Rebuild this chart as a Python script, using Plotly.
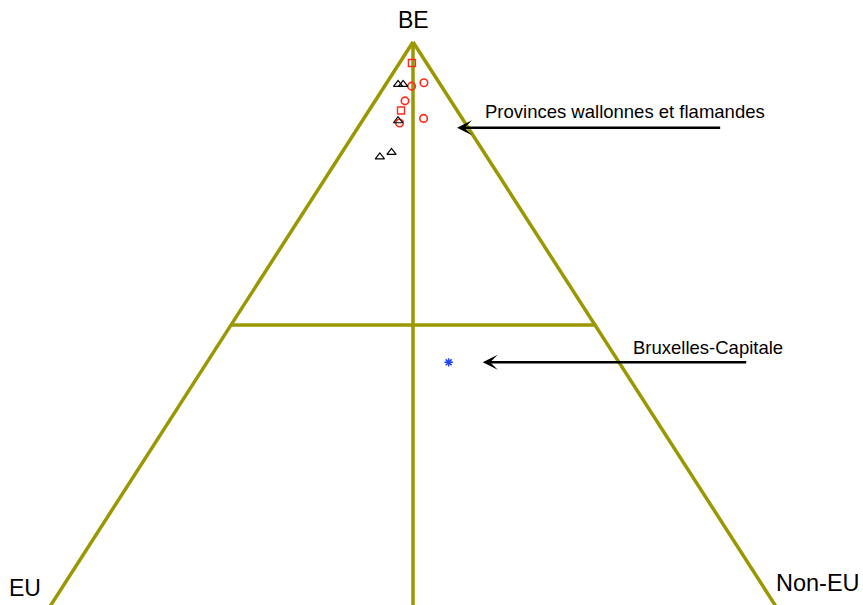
import plotly.graph_objects as go

# shares (%) of population by nationality: Belgian, other EU, non-EU
sq_be = [96.3, 87.9]
sq_eu = [2.0, 7.7]
sq_neu = [1.7, 4.4]

ci_be = [92.2, 92.8, 89.6, 85.7, 86.5]
ci_eu = [4.1, 2.1, 6.3, 9.0, 5.3]
ci_neu = [3.7, 5.1, 4.1, 5.3, 8.2]

tr_be = [92.5, 92.5, 86.0, 79.7, 80.5]
tr_eu = [5.8, 5.1, 9.0, 14.7, 12.7]
tr_neu = [1.7, 2.4, 4.9, 5.6, 6.8]

bx_be = [43.4]
bx_eu = [23.4]
bx_neu = [33.2]

OLIVE = "#9a9700"


def project(be, eu, neu):
    # BE at top (y=1), EU bottom left (x=-1), Non-EU bottom right (x=1)
    xs, ys = [], []
    for b, e, n in zip(be, eu, neu):
        t = b + e + n
        xs.append((n - e) / t)
        ys.append(b / t)
    return xs, ys


fig = go.Figure()

# triangle frame
for x0, y0, x1, y1 in [(0, 1, -1, 0), (0, 1, 1, 0), (0, 1, 0, 0), (-0.5, 0.5, 0.5, 0.5)]:
    fig.add_shape(type="line", x0=x0, y0=y0, x1=x1, y1=y1,
                  line=dict(color=OLIVE, width=3.5), layer="below")

x, y = project(sq_be, sq_eu, sq_neu)
fig.add_trace(go.Scatter(x=x, y=y, mode="markers",
                         marker=dict(symbol="square-open", size=7, color="#ff2a1a",
                                     line=dict(width=1.4))))
x, y = project(ci_be, ci_eu, ci_neu)
fig.add_trace(go.Scatter(x=x, y=y, mode="markers",
                         marker=dict(symbol="circle-open", size=7.5, color="#ff2a1a",
                                     line=dict(width=1.6))))
x, y = project(tr_be, tr_eu, tr_neu)
fig.add_trace(go.Scatter(x=x, y=y, mode="markers",
                         marker=dict(symbol="triangle-up-open", size=8, color="black",
                                     line=dict(width=1.2))))
bx, by = project(bx_be, bx_eu, bx_neu)
fig.add_trace(go.Scatter(x=bx, y=by, mode="markers",
                         marker=dict(symbol="asterisk-open", size=7, color="#2244ff",
                                     line=dict(width=1.5, color="#2244ff"))))

font = dict(family="Liberation Sans, Arial, sans-serif", color="black")

# corner labels
fig.add_annotation(x=0, y=1.039, text="BE", showarrow=False, font=dict(size=23, **font))
fig.add_annotation(x=-1.066, y=0.035, text="EU", showarrow=False, font=dict(size=23, **font))
fig.add_annotation(x=1.1126, y=0.044, text="Non-EU", showarrow=False, font=dict(size=23.5, **font))

# arrows + labels
fig.add_annotation(x=0.121, y=0.8486, ax=0.848, ay=0.8486, axref="x", ayref="y",
                   text="", showarrow=True, arrowhead=3, arrowwidth=2.5, arrowsize=1,
                   arrowcolor="black", standoff=0)
fig.add_annotation(x=0.583, y=0.877, text="Provinces wallonnes et flamandes",
                   showarrow=False, font=dict(size=18.5, **font))

fig.add_annotation(x=0.1915, y=by[0], ax=0.9195, ay=by[0], axref="x", ayref="y",
                   text="", showarrow=True, arrowhead=3, arrowwidth=2.5, arrowsize=1,
                   arrowcolor="black", standoff=0)
fig.add_annotation(x=0.8091, y=0.4603, text="Bruxelles-Capitale",
                   showarrow=False, font=dict(size=18.5, **font))

fig.update_xaxes(range=[-413 / 364, 450 / 364], visible=False, fixedrange=True)
fig.update_yaxes(range=[3 / 566, 608 / 566], visible=False, fixedrange=True)
fig.update_layout(width=863, height=605, margin=dict(l=0, r=0, t=0, b=0),
                  plot_bgcolor="white", paper_bgcolor="white", showlegend=False)

# drop the default body margin so the figure fills the window exactly
fig.write_html("out.html", config={"displayModeBar": False},
               post_script="document.body.style.margin='0';document.body.style.overflow='hidden';")
